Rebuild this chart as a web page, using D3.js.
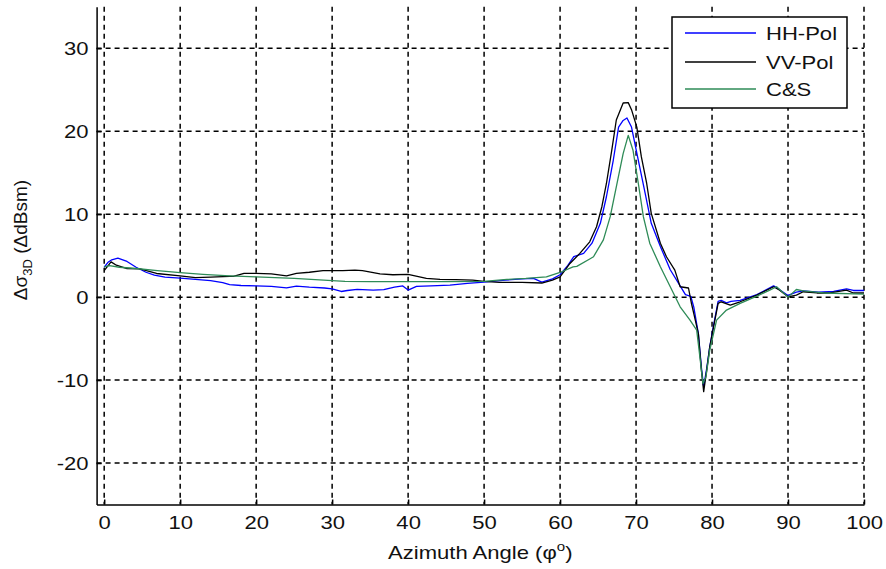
<!DOCTYPE html>
<html><head><meta charset="utf-8">
<script src="https://cdn.jsdelivr.net/npm/d3@7"></script>
<style>
html,body{margin:0;padding:0;background:#fff;}
text{font-family:"Liberation Sans",Arial,sans-serif;fill:#111;}
</style></head>
<body><svg id="chart" width="886" height="569"></svg>
<script>
// ---- data ----
const xTicks = [0,10,20,30,40,50,60,70,80,90,100];
const yTicks = [-20,-10,0,10,20,30];
const seriesNames = ["HH-Pol","VV-Pol","C&S"];

const hhAngle = [0,0.5,1,1.8,3,4.2,5.5,6.6,8,10,12,14,15.6,16.5,18,20,22,24,25.3,27,29,30,31.2,32,33.3,35.4,36.8,38.2,39.3,40,41.1,43,45.5,47.8,50,52.8,55,56.5,57.6,59,60,61,61.8,63.1,64.2,65.3,66.1,67,67.7,68.3,68.8,69.4,70.3,71.2,72,73.2,74.5,75.6,76.5,77.2,77.6,78.2,78.6,78.9,79.3,79.7,80.2,80.8,81.2,81.9,82.5,83.7,85.9,88.1,88.9,90,91.1,92,94,96,97.7,98.6,100];
const hhValue = [3.6,4.2,4.5,4.7,4.3,3.6,3.0,2.65,2.4,2.3,2.15,2.0,1.75,1.5,1.4,1.35,1.3,1.12,1.33,1.2,1.1,1.0,0.68,0.8,0.93,0.85,0.9,1.2,1.35,0.85,1.3,1.35,1.45,1.65,1.8,2.05,2.2,2.25,1.8,2.2,2.7,3.8,4.87,5.27,6.5,8.9,12.1,16.5,20.5,21.3,21.6,20.5,16.5,12.5,8.9,6.1,3.3,1.65,0.3,0.1,-1.2,-4.4,-8.5,-10.8,-8.6,-6.0,-3.4,-0.5,-0.4,-0.7,-0.5,-0.4,0.3,1.35,0.9,0.2,0.6,0.75,0.6,0.7,1.0,0.8,0.8];

const vvAngle = [0,0.9,1.6,3,4.7,6.9,10,12,14,16.5,17,18.4,20,22,24,25.3,27,28.8,31.4,33,34,36.3,38,40,42.4,44.2,46.3,48.5,50,52,55,57.6,59,60,61.3,62.6,63.9,64.8,65.5,66.1,66.8,67.4,68.3,68.97,69.4,70.1,70.7,71.4,72,73.2,74,75.1,75.8,76.9,77.3,77.6,78.2,78.6,78.9,79.3,79.7,80.2,80.8,81.2,82.4,83.7,85.9,88.1,88.9,90,91.1,92,93.8,95.5,97.7,98.6,100];
const vvValue = [3.2,4.25,3.85,3.45,3.4,2.85,2.55,2.35,2.4,2.5,2.5,2.86,2.86,2.8,2.55,2.86,3.0,3.2,3.2,3.25,3.2,2.8,2.7,2.75,2.25,2.13,2.1,2.05,1.9,1.77,1.77,1.7,2.05,2.45,4.06,5.27,6.67,8.48,10.9,13.7,17.7,21.35,23.4,23.45,22.6,20.5,16.9,13.7,10.1,6.5,4.87,3.26,1.25,1.1,-0.8,-2.0,-4.4,-8.8,-11.4,-8.8,-6.0,-3.6,-0.76,-0.56,-0.96,-0.56,0.24,1.25,0.84,0.04,0.24,0.65,0.5,0.5,0.84,0.5,0.5];

const csAngle = [0,0.7,2,4.2,7,10,13,16.5,20,25,30,31.7,35,40,45,50,53,55.5,58.2,60,61.7,62.2,63.9,64.4,65.7,66.6,67.4,68.3,68.97,69.6,70.3,70.96,71.8,73.2,74.5,75.8,77.1,77.98,78.4,78.8,79.2,79.7,80.6,81.9,83.7,85.9,87.6,88.5,90,91.1,92,94.7,100];
const csValue = [3.65,3.8,3.6,3.45,3.2,2.95,2.75,2.57,2.45,2.25,2.0,1.9,1.88,1.87,1.87,1.9,2.13,2.25,2.45,2.97,3.65,3.7,4.6,4.87,6.9,9.7,13.3,17.3,19.5,17.7,13.7,9.7,6.5,3.66,1.25,-1.17,-2.77,-3.98,-7.2,-10.4,-9.6,-6.4,-2.77,-1.56,-0.76,0.12,0.84,1.25,0.0,0.92,0.76,0.5,0.36];

const seriesColors = ["#0000ff","#000000","#2e8b57"];
// ---- drawing ----
const svg = d3.select("#chart");
const xs = d3.scaleLinear().domain([-1,100]).range([96.6,864]);
const ys = d3.scaleLinear().domain([-25,35]).range([504.5,6.8]);
const STRETCH = 1.16;
function stretch(sel){
  sel.each(function(){
    const w = this.getComputedTextLength();
    d3.select(this).attr("textLength", w*STRETCH).attr("lengthAdjust","spacingAndGlyphs");
  });
}

// grid
const grid = svg.append("g").attr("stroke","#000").attr("stroke-width",1.5).attr("stroke-dasharray","5,4");
grid.selectAll("line.v").data(xTicks).join("line")
  .attr("x1",d=>xs(d)).attr("x2",d=>xs(d)).attr("y1",ys(35)).attr("y2",ys(-25));
grid.selectAll("line.h").data(yTicks).join("line")
  .attr("y1",d=>ys(d)).attr("y2",d=>ys(d)).attr("x1",xs(-1)).attr("x2",xs(100));

// axes
const fmt = d => String(d);
const gx = svg.append("g").attr("transform",`translate(0,${ys(-25)})`)
  .call(d3.axisBottom(xs).tickValues(xTicks).tickFormat(fmt).tickSize(-5).tickSizeOuter(0).tickPadding(11));
const gy = svg.append("g").attr("transform",`translate(${xs(-1)},0)`)
  .call(d3.axisLeft(ys).tickValues(yTicks).tickFormat(fmt).tickSize(-5).tickSizeOuter(0).tickPadding(8));
[gx,gy].forEach(g=>{
  g.select(".domain").attr("stroke","#000").attr("stroke-width",1.5);
  g.selectAll(".tick line").attr("stroke","#000").attr("stroke-width",1.5);
  g.selectAll(".tick text").attr("font-size",19).attr("font-family","Liberation Sans, Arial, sans-serif").attr("fill","#111");
});
stretch(gx.selectAll(".tick text"));
stretch(gy.selectAll(".tick text"));

// lines
const line = d3.line().x(d=>xs(d[0])).y(d=>ys(d[1]));
const data = [d3.zip(hhAngle,hhValue), d3.zip(vvAngle,vvValue), d3.zip(csAngle,csValue)];
svg.append("g").selectAll("path").data(data).join("path")
  .attr("d",line).attr("fill","none")
  .attr("stroke",(d,i)=>seriesColors[i]).attr("stroke-width",1.3).attr("stroke-linejoin","round");

// axis labels
const xl = svg.append("text").attr("x",(xs(-1)+xs(100))/2).attr("y",559).attr("text-anchor","middle").attr("font-size",19);
xl.append("tspan").text("Azimuth Angle (φ");
xl.append("tspan").text("o").attr("font-size",13).attr("dy",-8);
xl.append("tspan").text(")").attr("dy",8);
stretch(xl);

const yl = svg.append("text").attr("transform",`translate(27,240) rotate(-90)`)
  .attr("text-anchor","middle").attr("font-size",19);
yl.append("tspan").text("Δσ");
yl.append("tspan").text("3D").attr("font-size",13).attr("dy",5);
yl.append("tspan").text(" (ΔdBsm)").attr("dy",-5);

// legend
const lg = svg.append("g");
lg.append("rect").attr("x",672).attr("y",17).attr("width",175).attr("height",91)
  .attr("fill","#fff").attr("stroke","#000").attr("stroke-width",1.5);
const rowsY = [33,62,89];
seriesNames.forEach((n,i)=>{
  lg.append("line").attr("x1",685).attr("x2",756).attr("y1",rowsY[i]).attr("y2",rowsY[i])
    .attr("stroke",seriesColors[i]).attr("stroke-width",1.3);
  const t = lg.append("text").attr("x",766).attr("y",rowsY[i]).attr("dy","0.35em").attr("font-size",19).text(n);
  stretch(t);
});
</script></body></html>
